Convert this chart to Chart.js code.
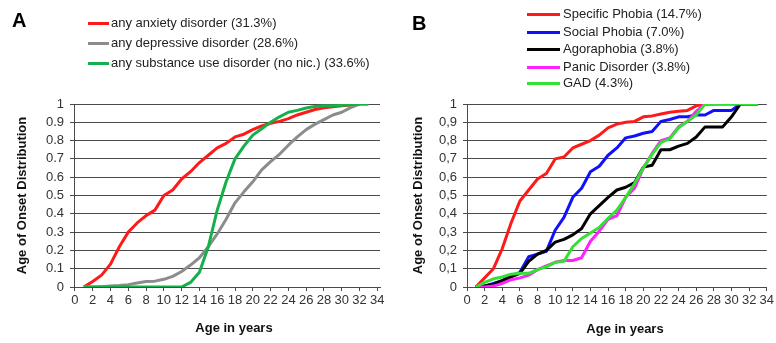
<!DOCTYPE html>
<html>
<head>
<meta charset="utf-8">
<script src="https://cdn.jsdelivr.net/npm/chart.js@4/dist/chart.umd.min.js"></script>
<style>
html,body{margin:0;padding:0;background:#fff;width:776px;height:343px;overflow:hidden;font-family:"Liberation Sans",Arial,sans-serif;}
.wrap{position:absolute;top:0;width:388px;height:343px;}
.wrap canvas{position:absolute;left:0;top:0;}
.panel{position:absolute;font-weight:bold;font-size:20px;color:#000;line-height:20px;}
.legtxt{position:absolute;font-size:13px;color:#222;line-height:15px;white-space:nowrap;}
.legsw{position:absolute;height:3px;}
.xt{position:absolute;font-weight:bold;font-size:13px;color:#111;line-height:15px;white-space:nowrap;transform:translateX(-50%);}
</style>
</head>
<body>
<div class="wrap" id="wa" style="left:0"><canvas id="ca" width="388" height="343"></canvas></div>
<div class="wrap" id="wb" style="left:388px"><canvas id="cb" width="388" height="343"></canvas></div>
<script>
// ---------- DATA ----------
const ages = [1,2,3,4,5,6,7,8,9,10,11,12,13,14,15,16,17,18,19,20,21,22,23,24,25,26,27,28,29,30,31,32,33];

// Panel A
const seriesNamesA = ["any anxiety disorder (31.3%)", "any depressive disorder (28.6%)", "any substance use disorder (no nic.) (33.6%)"];
const anxietyA    = [0,0.03,0.065,0.125,0.22,0.30,0.35,0.39,0.42,0.50,0.53,0.59,0.63,0.68,0.72,0.76,0.785,0.82,0.835,0.86,0.88,0.895,0.905,0.92,0.94,0.955,0.97,0.98,0.985,0.99,0.995,1.0];
const depressiveA = [0,0,0.002,0.005,0.008,0.013,0.022,0.03,0.032,0.042,0.058,0.085,0.12,0.16,0.22,0.29,0.37,0.46,0.52,0.575,0.64,0.685,0.725,0.775,0.82,0.86,0.89,0.915,0.94,0.955,0.98,1.0,1.0];
const substanceA  = [0,0,0,0,0,0,0,0,0,0,0,0,0.025,0.08,0.22,0.42,0.575,0.70,0.77,0.83,0.865,0.90,0.93,0.955,0.965,0.978,0.987,0.99,0.99,0.993,0.996,1.0,1.0];

// Panel B
const seriesNamesB = ["Specific Phobia (14.7%)", "Social Phobia (7.0%)", "Agoraphobia (3.8%)", "Panic Disorder (3.8%)", "GAD (4.3%)"];
const specificB = [0,0.05,0.10,0.21,0.35,0.47,0.53,0.59,0.62,0.70,0.71,0.76,0.78,0.80,0.83,0.87,0.89,0.90,0.905,0.93,0.935,0.945,0.955,0.96,0.965,0.99,1,1,1,1,1,1,1];
const socialB   = [0,0.005,0.02,0.035,0.06,0.08,0.165,0.18,0.195,0.31,0.38,0.49,0.54,0.63,0.66,0.72,0.76,0.815,0.825,0.84,0.85,0.905,0.915,0.93,0.93,0.94,0.94,0.965,0.965,0.965,1,1,1];
const agoraB    = [0,0.005,0.015,0.035,0.055,0.075,0.14,0.18,0.20,0.245,0.26,0.285,0.32,0.40,0.445,0.49,0.53,0.545,0.57,0.655,0.665,0.75,0.75,0.77,0.785,0.82,0.875,0.875,0.875,0.93,1.0];
const panicB    = [0,0,0.005,0.02,0.04,0.05,0.065,0.095,0.115,0.135,0.145,0.145,0.16,0.25,0.305,0.37,0.39,0.49,0.54,0.65,0.73,0.80,0.815,0.875,0.905,0.96,1,1];
const gadB      = [0,0.025,0.045,0.055,0.07,0.075,0.075,0.095,0.11,0.135,0.14,0.22,0.265,0.295,0.325,0.375,0.42,0.49,0.565,0.65,0.725,0.79,0.81,0.87,0.905,0.94,1,1,1,1,1,1,1];

// Ticks
const xTickValues = [0,2,4,6,8,10,12,14,16,18,20,22,24,26,28,30,32,34];
const xTickLabels = ["0","2","4","6","8","10","12","14","16","18","20","22","24","26","28","30","32","34"];
const yTickValues = [0,0.1,0.2,0.3,0.4,0.5,0.6,0.7,0.8,0.9,1];
const yTickLabelsA = ["0","0.1","0.2","0.3","0.4","0.5","0.6","0.7","0.8","0.9","1"];
const yTickLabelsB = ["0","0,1","0,2","0,3","0,4","0,5","0,6","0,7","0,8","0,9","1"];
const yTitle = "Age of Onset Distribution";
const xTitle = "Age in years";

// ---------- STYLE ----------
const colorsA = ["#ff1a1a", "#8c8c8c", "#14b04a"];
const colorsB = ["#ff1a1a", "#1010ff", "#000000", "#ff22ff", "#33e033"];

Chart.defaults.font.family = '"Liberation Sans", Arial, sans-serif';

function toPoints(vals){ return vals.map((v,i)=>({x: ages[i], y: v})); }

function makeChart(canvasId, seriesList, colors, yLabels, cfg){
  const n = seriesList.length;
  const datasets = seriesList.map((vals,i)=>({
    data: toPoints(vals),
    borderColor: colors[i],
    backgroundColor: colors[i],
    borderWidth: 3,
    pointRadius: 0,
    pointHoverRadius: 0,
    tension: 0,
    fill: false,
    borderJoinStyle: 'round',
    order: n - 1 - i
  }));
  const gridCol = '#4a4a4a';
  return new Chart(document.getElementById(canvasId), {
    type: 'line',
    data: { datasets },
    options: {
      responsive: false,
      animation: false,
      events: [],
      layout: { padding: { top: 104, right: cfg.padRight, left: 0, bottom: 0 } },
      plugins: { legend: { display: false }, tooltip: { enabled: false } },
      scales: {
        x: {
          type: 'linear',
          min: cfg.xMin, max: cfg.xMax,
          afterBuildTicks: (s) => { s.ticks = xTickValues.map(v => ({ value: v })); },
          afterFit: (s) => { s.height = 56; },
          ticks: {
            autoSkip: false, maxRotation: 0, minRotation: 0, padding: 2,
            color: '#333', font: { size: 13 },
            callback: (v, i) => xTickLabels[i]
          },
          grid: { drawOnChartArea: false, drawTicks: true, tickLength: 4, color: gridCol, lineWidth: 1 },
          border: { display: true, color: gridCol, width: 1 }
        },
        y: {
          type: 'linear',
          min: 0, max: 1,
          afterBuildTicks: (s) => { s.ticks = yTickValues.map(v => ({ value: v })); },
          afterFit: (s) => { s.width = cfg.yWidth; },
          ticks: {
            autoSkip: false, padding: 6, color: '#333', font: { size: 13 },
            callback: (v, i) => yLabels[i]
          },
          grid: { drawTicks: true, tickLength: 4, color: gridCol, lineWidth: 1 },
          border: { display: true, color: gridCol, width: 1 },
          title: {
            display: true, text: yTitle, color: '#111',
            font: { size: 13, weight: 'bold' },
            padding: { top: cfg.yTitlePad, bottom: 0 }
          }
        }
      }
    }
  });
}

makeChart('ca', [anxietyA, depressiveA, substanceA], colorsA, yTickLabelsA,
  { xMin: -0.1, xMax: 34.3, padRight: 8, yWidth: 74, yTitlePad: 14.2 });
makeChart('cb', [specificB, socialB, agoraB, panicB, gadB], colorsB, yTickLabelsB,
  { xMin: 0, xMax: 34, padRight: 9, yWidth: 79, yTitlePad: 22.2 });

// ---------- HTML text: panel letters, legends, x titles ----------
function addEl(parent, cls, text, style){
  const d = document.createElement('div');
  d.className = cls;
  if (text !== null) d.textContent = text;
  Object.assign(d.style, style);
  parent.appendChild(d);
  return d;
}
const wa = document.getElementById('wa');
const wb = document.getElementById('wb');
addEl(wa, 'panel', 'A', { left: '12px', top: '10px' });
addEl(wb, 'panel', 'B', { left: '24px', top: '13px' });

const legYA = [23, 43, 63];
seriesNamesA.forEach((name, i) => {
  addEl(wa, 'legsw', null, { left: '88px', width: '21px', top: (legYA[i] - 1.5) + 'px', background: colorsA[i] });
  addEl(wa, 'legtxt', name, { left: '111px', top: (legYA[i] - 8) + 'px' });
});
const legYB = [14, 32, 49, 67, 83];
seriesNamesB.forEach((name, i) => {
  addEl(wb, 'legsw', null, { left: '139px', width: '33px', top: (legYB[i] - 1.5) + 'px', background: colorsB[i] });
  addEl(wb, 'legtxt', name, { left: '175px', top: (legYB[i] - 8) + 'px' });
});
addEl(wa, 'xt', xTitle, { left: '234px', top: '320px' });
addEl(wb, 'xt', xTitle, { left: '237px', top: '321px' });
</script>
</body>
</html>
